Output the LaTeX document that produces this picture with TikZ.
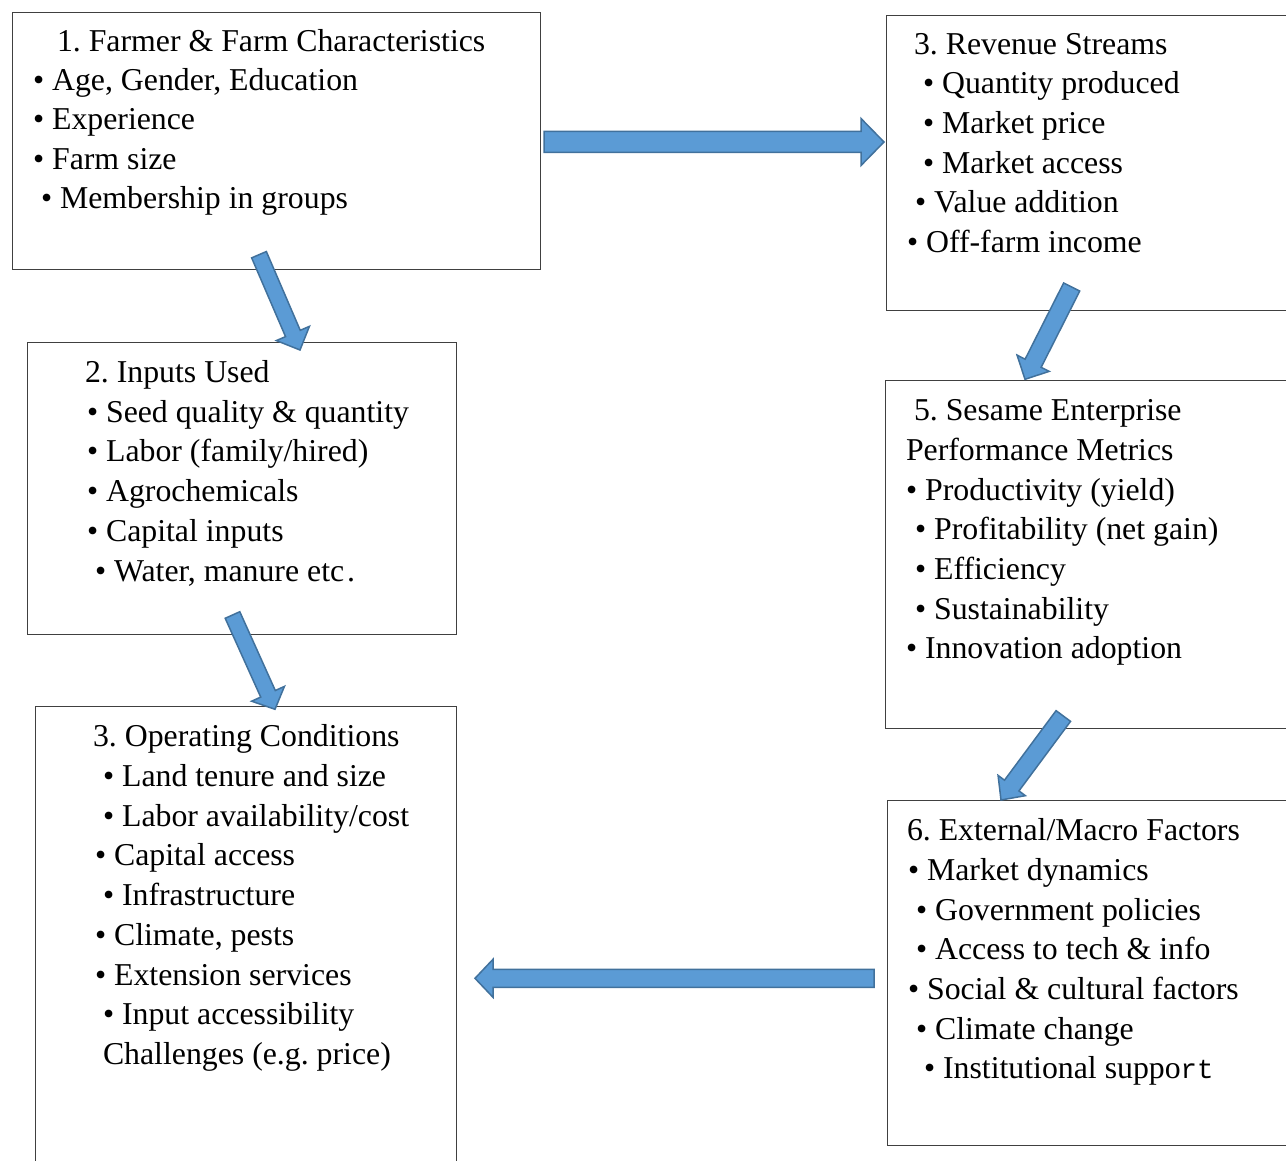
\documentclass[tikz,border=0pt]{standalone}
\usepackage{fontspec}
\setmainfont{Liberation Serif}
\setmonofont[Scale=0.86]{Liberation Mono}
\usetikzlibrary{calc}
\definecolor{arrfill}{HTML}{5B9BD5}
\definecolor{arredge}{HTML}{41719C}
\definecolor{boxline}{HTML}{404040}
\tikzset{
  box/.style={draw=boxline, line width=1.4pt, rectangle, inner sep=0pt, anchor=north west},
  txt/.style={anchor=base west, inner sep=0pt, outer sep=0pt, font=\fontsize{31.8}{38}\selectfont\frenchspacing},
  blockarr/.style={fill=arrfill, draw=arredge, line width=1.5pt, line join=miter},
}
% #1 tail, #2 tip, #3 half body width, #4 half head width, #5 head length
\newcommand\blockarrow[5]{%
  \coordinate (tmpH) at ($(#2)!#5!(#1)$);
  \draw[blockarr] ($(#1)!#3!90:(#2)$) -- ($(tmpH)!#3!90:(#2)$) -- ($(tmpH)!#4!90:(#2)$) -- (#2)
    -- ($(tmpH)!#4!-90:(#2)$) -- ($(tmpH)!#3!-90:(#2)$) -- ($(#1)!#3!-90:(#2)$) -- cycle;}
\newcommand\tl[4]{\node[txt] (#1) at (#2,#3) {#4};}
\begin{document}
\begin{tikzpicture}[x=1pt,y=-1pt]
\useasboundingbox (0,0) rectangle (1286,1161);
\clip (0,0) rectangle (1286,1161);
% boxes
\node[box, minimum width=528pt, minimum height=257pt] (farm) at (12,12) {};
\node[box, minimum width=429pt, minimum height=292pt] (inputs) at (27,342) {};
\node[box, minimum width=421pt, minimum height=480pt] (oper) at (35,706) {};
\node[box, minimum width=420pt, minimum height=295pt] (rev) at (886,15) {};
\node[box, minimum width=420pt, minimum height=348pt] (perf) at (885,380) {};
\node[box, minimum width=420pt, minimum height=345pt] (ext) at (887,800) {};
% box 1
\tl{f0}{57}{52}{1. Farmer \& Farm Characteristics}
\tl{f1}{33}{91}{• Age, Gender, Education}
\tl{f2}{33}{130}{• Experience}
\tl{f3}{33}{170}{• Farm size}
\tl{f4}{41}{209}{• Membership in groups}
% box 2
\tl{i0}{85}{382}{2. Inputs Used}
\tl{i1}{87}{422}{• Seed quality \& quantity}
\tl{i2}{87}{461}{• Labor (family/hired)}
\tl{i3}{87}{501}{• Agrochemicals}
\tl{i4}{87}{541}{• Capital inputs}
\tl{i5}{95}{581}{• Water, manure etc\kern3pt.}
% box 3
\tl{o0}{93}{746}{3. Operating Conditions}
\tl{o1}{103}{786}{• Land tenure and size}
\tl{o2}{103}{826}{• Labor availability/cost}
\tl{o3}{95}{865}{• Capital access}
\tl{o4}{103}{905}{• Infrastructure}
\tl{o5}{95}{945}{• Climate, pests}
\tl{o6}{95}{985}{• Extension services}
\tl{o7}{103}{1024}{• Input accessibility}
\tl{o8}{103}{1064}{Challenges (e.g. price)}
% revenue
\tl{r0}{914}{55}{3. Revenue Streams}
\tl{r1}{923}{94}{• Quantity produced}
\tl{r2}{923}{134}{• Market price}
\tl{r3}{923}{174}{• Market access}
\tl{r4}{915}{213}{• Value addition}
\tl{r5}{907}{253}{• Off-farm income}
% performance
\tl{p0}{914}{420}{5. Sesame Enterprise}
\tl{p1}{906}{460}{Performance Metrics}
\tl{p2}{906}{500}{• Productivity (yield)}
\tl{p3}{915}{539}{• Profitability (net gain)}
\tl{p4}{915}{579}{• Efficiency}
\tl{p5}{915}{619}{• Sustainability}
\tl{p6}{906}{658}{• Innovation adoption}
% external
\tl{e0}{907}{840}{6. External/Macro Factors}
\tl{e1}{908}{880}{• Market dynamics}
\tl{e2}{916}{920}{• Government policies}
\tl{e3}{916}{959}{• Access to tech \& info}
\tl{e4}{908}{999}{• Social \& cultural factors}
\tl{e5}{916}{1039}{• Climate change}
\tl{e6}{924}{1078}{• Institutional suppo{\ttfamily rt}}
% arrow end points
\coordinate (aS) at (544,142);   \coordinate (aE) at (884,142);
\coordinate (bS) at (259,254.7); \coordinate (bE) at (300,350);
\coordinate (cS) at (1071.7,287);\coordinate (cE) at (1025,379.3);
\coordinate (dS) at (232.5,615); \coordinate (dE) at (275,709.3);
\coordinate (eS) at (1063.3,716);\coordinate (eE) at (1001,800);
\coordinate (gS) at (874,978.3); \coordinate (gE) at (475,978.3);
\blockarrow{aS}{aE}{10.5pt}{23.5pt}{23pt}
\blockarrow{bS}{bE}{8pt}{18pt}{18pt}
\blockarrow{cS}{cE}{9pt}{18pt}{18pt}
\blockarrow{dS}{dE}{8pt}{18pt}{17pt}
\blockarrow{eS}{eE}{9pt}{17pt}{18pt}
\blockarrow{gS}{gE}{9pt}{19pt}{18pt}
\end{tikzpicture}
\end{document}
